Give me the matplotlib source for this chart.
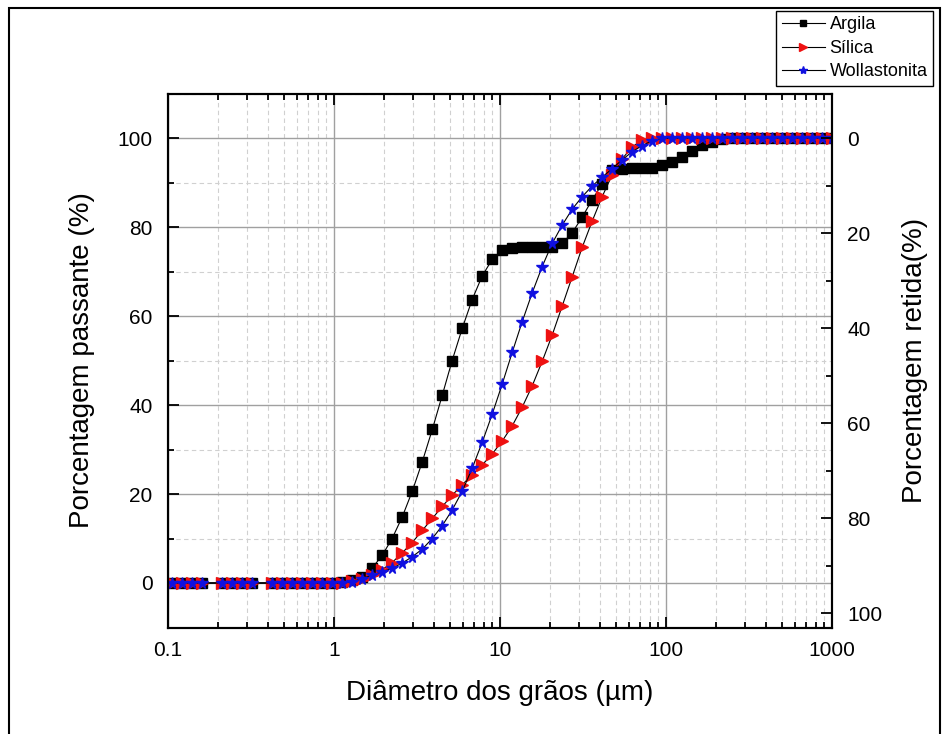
import matplotlib
matplotlib.use("Agg")
import matplotlib.pyplot as plt
from matplotlib.ticker import FixedLocator, NullFormatter, LogLocator, MultipleLocator
from matplotlib.patches import Rectangle

plt.rcParams['font.family'] = ['Liberation Sans', 'DejaVu Sans']

# particle diameters (um)
diam = [0.106, 0.122, 0.140, 0.161, 0.212, 0.244, 0.280, 0.322,
        0.425, 0.488, 0.561, 0.644, 0.740, 0.850, 0.977, 1.12, 1.29, 1.48,
        1.70, 1.95, 2.24, 2.58, 2.96, 3.40, 3.91, 4.49, 5.15, 5.92, 6.80,
        7.81, 8.97, 10.31, 11.84, 13.60, 15.63, 17.95, 20.62, 23.68, 27.21,
        31.25, 35.90, 41.23, 47.37, 54.41, 62.5, 71.79, 82.47, 94.73, 108.82,
        125.0, 143.59, 164.94, 189.46, 217.64, 250.0, 287.17, 329.88, 378.93,
        435.28, 500.0, 574.35, 659.75, 757.86, 870.55, 1000.0]

zeros15 = [0.0] * 15

argila = zeros15 + [0.2, 0.6, 1.4, 3.4, 6.2, 10.0, 14.9, 20.6, 27.2, 34.5,
                    42.2, 50.0, 57.2, 63.7, 69.0, 72.7, 74.8, 75.3, 75.5, 75.5,
                    75.5, 75.6, 76.3, 78.7, 82.2, 86.1, 89.7, 92.8, 93.0, 93.2,
                    93.2, 93.3, 93.9, 94.6, 95.8, 97.1, 98.4, 99.2, 99.7, 100,
                    100, 100, 100, 100, 100, 100, 100, 100, 100, 100]

silica = zeros15 + [0.1, 0.4, 1.0, 1.9, 3.0, 4.6, 6.8, 9.1, 11.8, 14.5,
                    17.2, 19.7, 22.1, 24.3, 26.5, 29.0, 31.9, 35.3, 39.5, 44.3,
                    49.8, 55.7, 62.2, 68.8, 75.4, 81.3, 86.8, 91.7, 95.3, 98.0,
                    99.5, 100, 100, 100, 100, 100, 100, 100, 100, 100,
                    100, 100, 100, 100, 100, 100, 100, 100, 100, 100]

wollastonita = zeros15 + [0.0, 0.3, 1.0, 1.8, 2.5, 3.3, 4.5, 5.9, 7.6, 10.0,
                          12.9, 16.4, 20.6, 25.8, 31.6, 37.9, 44.7, 51.8, 58.7, 65.2,
                          71.1, 76.3, 80.4, 84.0, 86.8, 89.2, 91.2, 93.1, 95.1, 96.9,
                          98.3, 99.4, 99.9, 100, 100, 100, 100, 100, 100, 100,
                          100, 100, 100, 100, 100, 100, 100, 100, 100, 100]

labels = ['Argila', 'Sílica', 'Wollastonita']
xticks = [0.1, 1, 10, 100, 1000]
xticklabels = ['0.1', '1', '10', '100', '1000']

fig = plt.figure(figsize=(9.45, 7.34), dpi=100)
ax = fig.add_axes([168/945, 1-627.5/734, (832-168)/945, (627.5-93.5)/734])

ax.set_xscale('log')
ax.set_xlim(0.1, 1000)
ax.set_ylim(-10, 110)

# grid
ax.set_axisbelow(True)
ax.xaxis.set_major_locator(FixedLocator(xticks))
ax.set_xticklabels(xticklabels)
ax.xaxis.set_minor_locator(LogLocator(base=10, subs=range(2, 10)))
ax.xaxis.set_minor_formatter(NullFormatter())
ax.yaxis.set_major_locator(MultipleLocator(20))
ax.yaxis.set_minor_locator(MultipleLocator(10))
ax.grid(True, which='major', color='#a0a0a0', linewidth=1.0, linestyle='-')
ax.grid(True, which='minor', color='#d0d0d0', linewidth=0.8, linestyle=(0, (4, 3)))

l1, = ax.plot(diam, argila, marker='s', markerfacecolor='black',
              markeredgecolor='black', label=labels[0],
              color='black', linewidth=0.8, markersize=6.5)
l2, = ax.plot(diam, silica, marker='>', markerfacecolor='#ee1111',
              markeredgecolor='#ee1111', label=labels[1],
              color='black', linewidth=0.8, markersize=8.5)
l3, = ax.plot(diam, wollastonita, marker='*', markerfacecolor='#1010e0',
              markeredgecolor='#1010e0', label=labels[2],
              color='black', linewidth=0.8, markersize=8.5)

for s in ax.spines.values():
    s.set_linewidth(1.5)

ax.tick_params(which='both', direction='in', top=True, right=False,
               labelsize=15, width=1.3)
ax.tick_params(which='major', length=8, pad=11)
ax.tick_params(which='minor', length=4)
ax.tick_params(axis='x', which='major', pad=10)

ax.set_xlabel('Diâmetro dos grãos (µm)', fontsize=20, labelpad=14)
ax.set_ylabel('Porcentagem passante (%)', fontsize=20, labelpad=16)

# right axis
ax2 = ax.twinx()
ax2.set_ylim(102.95, -9.37)
ax2.yaxis.set_major_locator(MultipleLocator(20))
ax2.yaxis.set_minor_locator(MultipleLocator(10))
ax2.tick_params(which='both', direction='in', labelsize=15, width=1.3)
ax2.tick_params(which='major', length=8, pad=11)
ax2.tick_params(which='minor', length=4)
ax2.set_ylabel('Porcentagem retida(%)', fontsize=20, labelpad=14)
for s in ax2.spines.values():
    s.set_linewidth(1.5)
ax2.set_xlim(0.1, 1000)

# legend
leg = fig.legend(handles=[l1, l2, l3], labels=labels, loc='upper right',
                 bbox_to_anchor=(933/945, 1-11/734), fontsize=13,
                 frameon=True, fancybox=False, edgecolor='black',
                 framealpha=1, borderpad=0.3, labelspacing=0.36,
                 handlelength=2.4, handletextpad=0.25, markerscale=0.7,
                 borderaxespad=0)
leg.get_frame().set_linewidth(1.0)

# figure border
fig.patches.append(Rectangle((9/945, -0.01), (940-9)/945, 1-8/734 + 0.01,
                             transform=fig.transFigure, fill=False,
                             edgecolor='black', linewidth=1.5))

fig.savefig('out.png', dpi=100)
